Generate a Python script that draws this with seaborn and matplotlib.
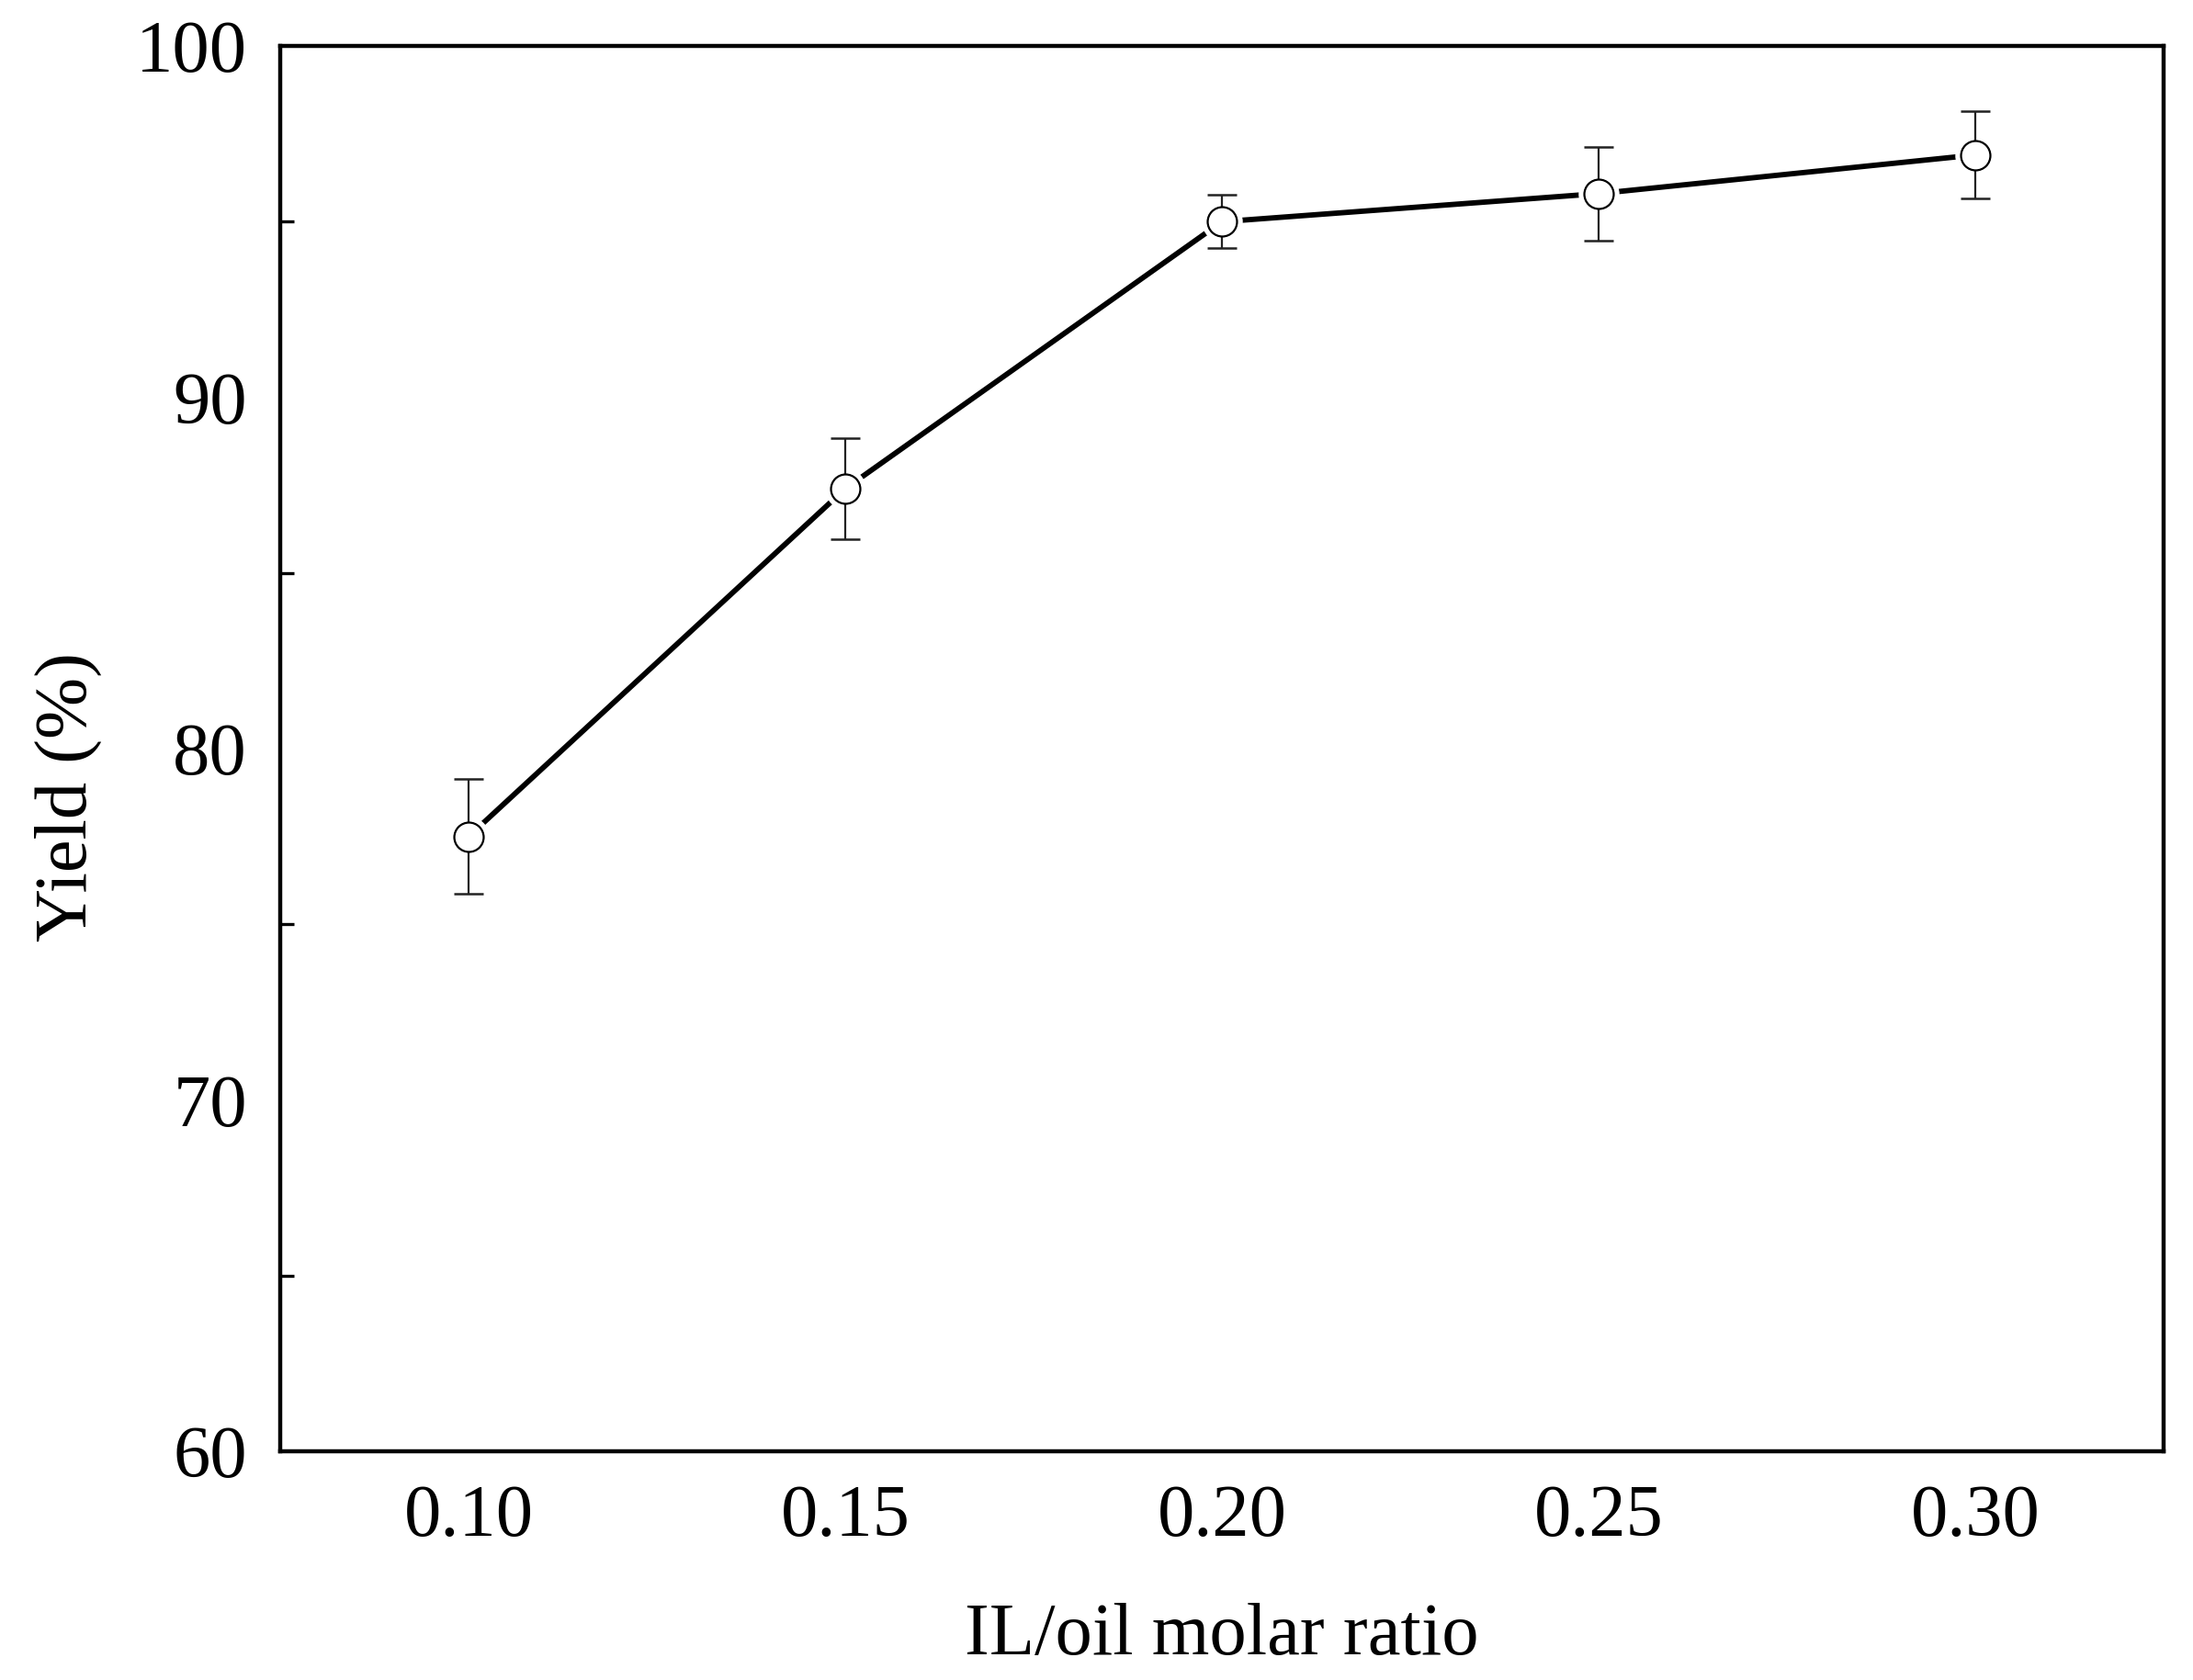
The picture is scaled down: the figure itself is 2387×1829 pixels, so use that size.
import pandas as pd
import matplotlib
matplotlib.use("Agg")
import matplotlib.pyplot as plt
import seaborn as sns
from matplotlib.ticker import AutoMinorLocator

# values
ratio = [0.10, 0.15, 0.20, 0.25, 0.30]
yield_pct = [77.5, 87.4, 95.0, 95.8, 96.9]
yield_err = [1.63, 1.43, 0.76, 1.34, 1.24]
x_ticks = [0.10, 0.15, 0.20, 0.25, 0.30]
x_tick_labels = ["0.10", "0.15", "0.20", "0.25", "0.30"]
y_ticks = [60, 70, 80, 90, 100]

df = pd.DataFrame({"ratio": ratio, "yield": yield_pct, "err": yield_err})

sns.set_theme(style="white")
plt.rcParams["font.family"] = ["Liberation Serif", "DejaVu Serif"]

fig = plt.figure(figsize=(23.87, 18.29), dpi=100)
ax = fig.add_axes([0.1278, 0.1361, 0.8588, 0.8365])

# connecting line
sns.lineplot(data=df, x="ratio", y="yield", ax=ax, color="black",
             linewidth=4.2, zorder=2, errorbar=None)
# white halo to leave a small gap between line and markers
ax.plot(df["ratio"], df["yield"], linestyle="none", marker="o",
        markersize=31, markerfacecolor="white", markeredgecolor="white",
        zorder=3)
ax.errorbar(df["ratio"], df["yield"], yerr=df["err"], fmt="none",
            ecolor="#222222", elinewidth=1.6, capsize=11.5, capthick=1.8,
            zorder=4)
sns.scatterplot(data=df, x="ratio", y="yield", ax=ax, marker="o", s=23 ** 2,
                facecolor="white", edgecolor="black", linewidth=1.6,
                zorder=5)

ax.set_xlim(0.075, 0.325)
ax.set_ylim(60, 100)
ax.set_xticks(x_ticks)
ax.set_xticklabels(x_tick_labels)
ax.set_yticks(y_ticks)
ax.yaxis.set_minor_locator(AutoMinorLocator(2))

for side in ["top", "right", "bottom", "left"]:
    ax.spines[side].set_visible(True)
    ax.spines[side].set_color("black")
    ax.spines[side].set_linewidth(3.2)

ax.tick_params(axis="both", which="major", direction="in", length=21,
               width=2.4, color="black", labelsize=58, pad=26,
               labelcolor="black")
ax.tick_params(axis="y", which="minor", direction="in", length=11,
               width=2.4, color="black", left=True)
ax.tick_params(axis="x", which="minor", bottom=False)

ax.set_xlabel("IL/oil molar ratio", fontsize=58, labelpad=40, color="black")
ax.set_ylabel("Yield (%)", fontsize=58, color="black")
ax.yaxis.set_label_coords(-0.0946, 0.4655)

fig.savefig("out.png", dpi=100, facecolor="white")
